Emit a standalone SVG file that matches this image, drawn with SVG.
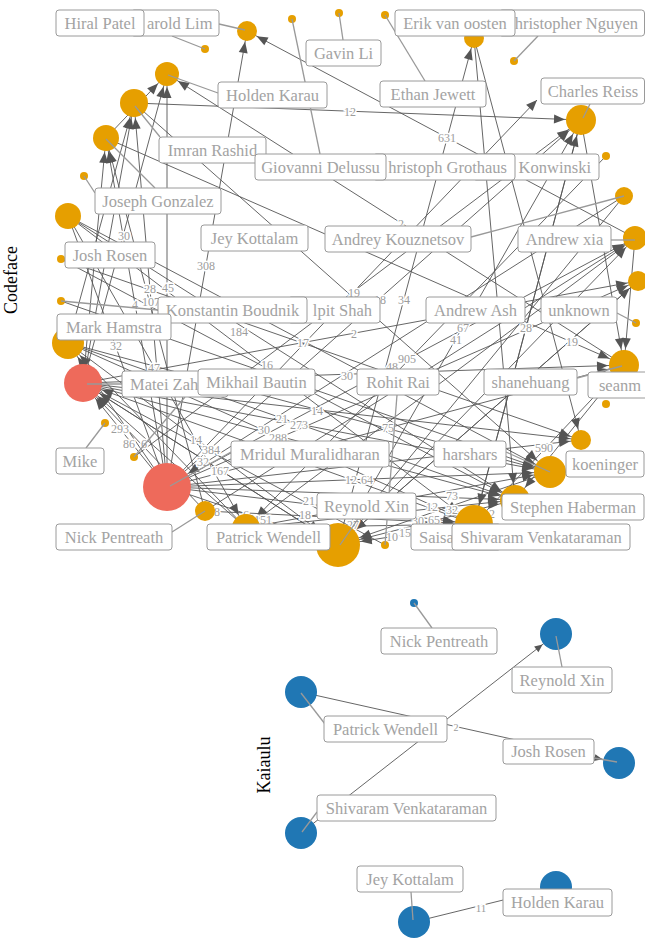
<svg xmlns="http://www.w3.org/2000/svg" width="645" height="939" viewBox="0 0 645 939">
<style>
.e{stroke:#555;stroke-width:.9;fill:none}
.ld{stroke:#999;stroke-width:1.3;fill:none}
.el{font-family:'Liberation Serif','DejaVu Serif',serif;font-size:12px;fill:#9c9c9c;stroke:#fff;stroke-width:3;paint-order:stroke;text-anchor:middle;dominant-baseline:central}
.lb rect{fill:#fff;stroke:#9a9a9a;stroke-width:1}
.lb text{font-family:'Liberation Serif','DejaVu Serif',serif;font-size:16.5px;fill:#a3a3a3;text-anchor:middle}
.lb text.s{text-anchor:start}.lb text.n{text-anchor:end}
.o{fill:#E69F00}.r{fill:#EE6A5B}.b{fill:#2077B4}
.ttl{font-family:'Liberation Serif','DejaVu Serif',serif;font-size:18px;fill:#000;text-anchor:middle}
</style>
<defs>
<marker id="a0" markerUnits="userSpaceOnUse" refX="0" refY="0" markerWidth="12" markerHeight="10" orient="auto" overflow="visible"><path d="M0,0L-11,-4.5L-11,4.5Z" fill="#555"/></marker>
<marker id="a10" markerUnits="userSpaceOnUse" refX="11" refY="0" markerWidth="12" markerHeight="10" orient="auto" overflow="visible"><path d="M0,0L-11,-4.5L-11,4.5Z" fill="#555"/></marker>
<marker id="a12" markerUnits="userSpaceOnUse" refX="13" refY="0" markerWidth="12" markerHeight="10" orient="auto" overflow="visible"><path d="M0,0L-11,-4.5L-11,4.5Z" fill="#555"/></marker>
<marker id="a13" markerUnits="userSpaceOnUse" refX="14" refY="0" markerWidth="12" markerHeight="10" orient="auto" overflow="visible"><path d="M0,0L-11,-4.5L-11,4.5Z" fill="#555"/></marker>
<marker id="a14" markerUnits="userSpaceOnUse" refX="15" refY="0" markerWidth="12" markerHeight="10" orient="auto" overflow="visible"><path d="M0,0L-11,-4.5L-11,4.5Z" fill="#555"/></marker>
<marker id="a15" markerUnits="userSpaceOnUse" refX="16" refY="0" markerWidth="12" markerHeight="10" orient="auto" overflow="visible"><path d="M0,0L-11,-4.5L-11,4.5Z" fill="#555"/></marker>
<marker id="a16" markerUnits="userSpaceOnUse" refX="17" refY="0" markerWidth="12" markerHeight="10" orient="auto" overflow="visible"><path d="M0,0L-11,-4.5L-11,4.5Z" fill="#555"/></marker>
<marker id="a19" markerUnits="userSpaceOnUse" refX="20" refY="0" markerWidth="12" markerHeight="10" orient="auto" overflow="visible"><path d="M0,0L-11,-4.5L-11,4.5Z" fill="#555"/></marker>
<marker id="a22" markerUnits="userSpaceOnUse" refX="23" refY="0" markerWidth="12" markerHeight="10" orient="auto" overflow="visible"><path d="M0,0L-11,-4.5L-11,4.5Z" fill="#555"/></marker>
<marker id="a24" markerUnits="userSpaceOnUse" refX="25" refY="0" markerWidth="12" markerHeight="10" orient="auto" overflow="visible"><path d="M0,0L-11,-4.5L-11,4.5Z" fill="#555"/></marker>
<marker id="k16" markerUnits="userSpaceOnUse" refX="17" refY="0" markerWidth="10" markerHeight="8" orient="auto" overflow="visible"><path d="M0,0L-8,-3.5L-8,3.5Z" fill="#555"/></marker>
</defs>
<rect width="645" height="939" fill="#fff"/>
<text class="ttl" transform="translate(17,280) rotate(-90)">Codeface</text>
<text class="ttl" transform="translate(270,765) rotate(-90)">Kaiaulu</text>

<g id="connectors">
<line class="e" x1="167" y1="487" x2="247" y2="31" marker-end="url(#a10)"/>
<line class="e" x1="635" y1="238" x2="247" y2="31" marker-end="url(#a10)"/>
<line class="e" x1="134" y1="103" x2="581" y2="120" marker-end="url(#a15)"/>
<line class="e" x1="581" y1="120" x2="624" y2="365" marker-end="url(#a15)"/>
<line class="e" x1="106" y1="138" x2="167" y2="74" marker-end="url(#a12)"/>
<line class="e" x1="624" y1="365" x2="167" y2="74" marker-end="url(#a12)"/>
<line class="e" x1="106" y1="138" x2="624" y2="365" marker-end="url(#a15)"/>
<line class="e" x1="338" y1="545" x2="581" y2="120" marker-end="url(#a15)"/>
<line class="e" x1="474" y1="524" x2="581" y2="120" marker-end="url(#a15)"/>
<line class="e" x1="167" y1="487" x2="581" y2="120" marker-end="url(#a15)"/>
<line class="e" x1="338" y1="545" x2="474" y2="38" marker-end="url(#a10)"/>
<line class="e" x1="167" y1="487" x2="167" y2="74" marker-end="url(#a12)"/>
<line class="e" x1="167" y1="487" x2="134" y2="103" marker-end="url(#a14)"/>
<line class="e" x1="83" y1="383" x2="167" y2="74" marker-end="url(#a12)"/>
<line class="e" x1="167" y1="487" x2="106" y2="138" marker-end="url(#a13)"/>
<line class="e" x1="205" y1="511" x2="106" y2="138" marker-end="url(#a13)"/>
<line class="e" x1="83" y1="383" x2="106" y2="138" marker-end="url(#a13)"/>
<line class="e" x1="68" y1="343" x2="134" y2="103" marker-end="url(#a14)"/>
<line class="e" x1="83" y1="383" x2="134" y2="103" marker-end="url(#a14)"/>
<line class="e" x1="134" y1="457" x2="581" y2="120" marker-end="url(#a15)"/>
<line class="e" x1="61" y1="259" x2="581" y2="440" marker-end="url(#a10)"/>
<line class="e" x1="83" y1="383" x2="638" y2="281" marker-end="url(#a10)"/>
<line class="e" x1="167" y1="487" x2="635" y2="238" marker-end="url(#a12)"/>
<line class="e" x1="83" y1="383" x2="624" y2="365" marker-end="url(#a15)"/>
<line class="e" x1="68" y1="216" x2="246" y2="528" marker-end="url(#a14)"/>
<line class="e" x1="68" y1="216" x2="474" y2="524" marker-end="url(#a19)"/>
<line class="e" x1="68" y1="216" x2="515" y2="500" marker-end="url(#a15)"/>
<line class="e" x1="167" y1="487" x2="83" y2="383" marker-end="url(#a19)"/>
<line class="e" x1="205" y1="511" x2="83" y2="383" marker-end="url(#a19)"/>
<line class="e" x1="68" y1="216" x2="167" y2="487"/>
<line class="e" x1="167" y1="487" x2="68" y2="343" marker-end="url(#a16)"/>
<line class="e" x1="246" y1="528" x2="68" y2="343" marker-end="url(#a16)"/>
<line class="e" x1="338" y1="545" x2="83" y2="383" marker-end="url(#a19)"/>
<line class="e" x1="474" y1="524" x2="83" y2="383" marker-end="url(#a19)"/>
<line class="e" x1="246" y1="528" x2="83" y2="383" marker-end="url(#a19)"/>
<line class="e" x1="68" y1="343" x2="550" y2="472" marker-end="url(#a16)"/>
<line class="e" x1="68" y1="343" x2="515" y2="500" marker-end="url(#a15)"/>
<line class="e" x1="83" y1="383" x2="550" y2="472" marker-end="url(#a16)"/>
<line class="e" x1="83" y1="383" x2="515" y2="500" marker-end="url(#a15)"/>
<line class="e" x1="68" y1="343" x2="474" y2="524" marker-end="url(#a19)"/>
<line class="e" x1="61" y1="259" x2="515" y2="500" marker-end="url(#a15)"/>
<line class="e" x1="68" y1="343" x2="338" y2="545" marker-end="url(#a22)"/>
<line class="e" x1="83" y1="383" x2="385" y2="545"/>
<line class="e" x1="83" y1="383" x2="338" y2="545" marker-end="url(#a22)"/>
<line class="e" x1="167" y1="487" x2="638" y2="281" marker-end="url(#a10)"/>
<line class="e" x1="167" y1="487" x2="550" y2="472" marker-end="url(#a16)"/>
<line class="e" x1="167" y1="487" x2="474" y2="524" marker-end="url(#a19)"/>
<line class="e" x1="205" y1="511" x2="474" y2="524" marker-end="url(#a19)"/>
<line class="e" x1="167" y1="487" x2="338" y2="545" marker-end="url(#a22)"/>
<line class="e" x1="167" y1="487" x2="515" y2="500" marker-end="url(#a15)"/>
<line class="e" x1="246" y1="528" x2="515" y2="500" marker-end="url(#a15)"/>
<line class="e" x1="246" y1="528" x2="474" y2="524" marker-end="url(#a19)"/>
<line class="e" x1="638" y1="281" x2="338" y2="545" marker-end="url(#a22)"/>
<line class="e" x1="515" y1="500" x2="338" y2="545" marker-end="url(#a22)"/>
<line class="e" x1="474" y1="524" x2="338" y2="545" marker-end="url(#a22)"/>
<line class="e" x1="550" y1="472" x2="338" y2="545" marker-end="url(#a22)"/>
<line class="e" x1="83" y1="383" x2="581" y2="440" marker-end="url(#a10)"/>
<line class="e" x1="474" y1="38" x2="581" y2="440" marker-end="url(#a10)"/>
<line class="e" x1="635" y1="238" x2="624" y2="365" marker-end="url(#a15)"/>
<line class="e" x1="624" y1="365" x2="515" y2="500" marker-end="url(#a15)"/>
<line class="e" x1="246" y1="528" x2="635" y2="238" marker-end="url(#a12)"/>
<line class="e" x1="338" y1="545" x2="635" y2="238" marker-end="url(#a12)"/>
<line class="e" x1="167" y1="487" x2="581" y2="440" marker-end="url(#a10)"/>
<line class="e" x1="68" y1="216" x2="550" y2="472" marker-end="url(#a16)"/>
<line class="e" x1="474" y1="38" x2="515" y2="500" marker-end="url(#a15)"/>
<line class="e" x1="581" y1="120" x2="474" y2="524" marker-end="url(#a19)"/>
<line class="e" x1="624" y1="196" x2="338" y2="545" marker-end="url(#a22)"/>
<line class="e" x1="624" y1="196" x2="167" y2="487" marker-end="url(#a24)"/>
<line class="e" x1="606" y1="156" x2="246" y2="528" marker-end="url(#a14)"/>
<line class="e" x1="624" y1="365" x2="474" y2="524" marker-end="url(#a19)"/>
<line class="e" x1="167" y1="487" x2="624" y2="365" marker-end="url(#a15)"/>
<line class="e" x1="246" y1="528" x2="550" y2="472" marker-end="url(#a16)"/>
<line class="e" x1="61" y1="301" x2="550" y2="472" marker-end="url(#a16)"/>
<line class="e" x1="205" y1="511" x2="635" y2="238" marker-end="url(#a12)"/>
<line class="e" x1="338" y1="545" x2="638" y2="281" marker-end="url(#a10)"/>
<line class="e" x1="134" y1="103" x2="550" y2="472" marker-end="url(#a16)"/>
<line class="e" x1="167" y1="487" x2="537" y2="100" marker-end="url(#a0)"/>
<line class="e" x1="301" y1="692" x2="619" y2="763" marker-end="url(#k16)"/>
<line class="e" x1="301" y1="833" x2="556" y2="634" marker-end="url(#k16)"/>
<line class="e" x1="414" y1="922" x2="556" y2="887" marker-end="url(#k16)"/>
</g>

<g id="edge-labels">
<text class="el" x="350" y="112">12</text>
<text class="el" x="447" y="138">631</text>
<text class="el" x="401" y="224">2</text>
<text class="el" x="124" y="236">30</text>
<text class="el" x="206" y="266">308</text>
<text class="el" x="150" y="289">28</text>
<text class="el" x="168" y="288">45</text>
<text class="el" x="135" y="305">4</text>
<text class="el" x="151" y="302">107</text>
<text class="el" x="354" y="293">19</text>
<text class="el" x="380" y="300">18</text>
<text class="el" x="404" y="300">34</text>
<text class="el" x="239" y="332">184</text>
<text class="el" x="303" y="343">17</text>
<text class="el" x="354" y="334">2</text>
<text class="el" x="463" y="328">67</text>
<text class="el" x="526" y="328">28</text>
<text class="el" x="456" y="340">41</text>
<text class="el" x="572" y="342">19</text>
<text class="el" x="407" y="359">905</text>
<text class="el" x="392" y="367">48</text>
<text class="el" x="116" y="346">32</text>
<text class="el" x="154" y="368">47</text>
<text class="el" x="267" y="365">16</text>
<text class="el" x="347" y="376">30</text>
<text class="el" x="120" y="429">293</text>
<text class="el" x="129" y="444">86</text>
<text class="el" x="144" y="444">6</text>
<text class="el" x="317" y="411">14</text>
<text class="el" x="282" y="419">21</text>
<text class="el" x="264" y="430">30</text>
<text class="el" x="299" y="425">273</text>
<text class="el" x="278" y="438">288</text>
<text class="el" x="388" y="428">75</text>
<text class="el" x="196" y="440">14</text>
<text class="el" x="211" y="450">384</text>
<text class="el" x="203" y="462">32</text>
<text class="el" x="220" y="471">167</text>
<text class="el" x="351" y="480">12</text>
<text class="el" x="367" y="480">64</text>
<text class="el" x="309" y="501">21</text>
<text class="el" x="305" y="515">18</text>
<text class="el" x="217" y="512">8</text>
<text class="el" x="246" y="515">6</text>
<text class="el" x="263" y="520">151</text>
<text class="el" x="452" y="496">73</text>
<text class="el" x="432" y="507">12</text>
<text class="el" x="452" y="510">32</text>
<text class="el" x="434" y="520">65</text>
<text class="el" x="353" y="525">27</text>
<text class="el" x="418" y="521">30</text>
<text class="el" x="405" y="533">15</text>
<text class="el" x="392" y="537">10</text>
<text class="el" x="492" y="514">2</text>
<text class="el" x="544" y="448">590</text>
<text class="el" x="456" y="727" style="font-size:10px">2</text>
<text class="el" x="481" y="908" style="font-size:11px">11</text>
</g>

<g id="nodes">
<g id="cf-harold-lim"><circle class="o" cx="247" cy="31" r="10"/></g>
<g id="cf-hiral-patel"><circle class="o" cx="205" cy="49" r="4"/></g>
<g id="cf-giovanni-delussu"><circle class="o" cx="292" cy="19" r="4"/></g>
<g id="cf-holden-karau"><circle class="o" cx="167" cy="74" r="12"/></g>
<g id="cf-imran-rashid"><circle class="o" cx="134" cy="103" r="14"/></g>
<g id="cf-node-06"><circle class="o" cx="106" cy="138" r="13"/></g>
<g id="cf-joseph-gonzalez"><circle class="o" cx="84" cy="176" r="4"/></g>
<g id="cf-gavin-li"><circle class="o" cx="339" cy="13" r="4"/></g>
<g id="cf-ethan-jewett"><circle class="o" cx="385" cy="15" r="4"/></g>
<g id="cf-erik-van-oosten"><circle class="o" cx="474" cy="38" r="10"/></g>
<g id="cf-christopher-nguyen"><circle class="o" cx="514" cy="61" r="4"/></g>
<g id="cf-charles-reiss"><circle class="o" cx="581" cy="120" r="15"/></g>
<g id="cf-andy-konwinski"><circle class="o" cx="606" cy="156" r="4"/></g>
<g id="cf-andrey-kouznetsov"><circle class="o" cx="624" cy="196" r="9"/></g>
<g id="cf-node-15"><circle class="o" cx="68" cy="216" r="13"/></g>
<g id="cf-josh-rosen"><circle class="o" cx="61" cy="259" r="4"/></g>
<g id="cf-konstantin-boudnik"><circle class="o" cx="61" cy="301" r="4"/></g>
<g id="cf-mark-hamstra"><circle class="o" cx="68" cy="343" r="16"/></g>
<g id="cf-matei-zaharia"><circle class="r" cx="83" cy="383" r="19"/></g>
<g id="cf-andrew-xia"><circle class="o" cx="635" cy="238" r="12"/></g>
<g id="cf-andrew-ash"><circle class="o" cx="638" cy="281" r="10"/></g>
<g id="cf-unknown"><circle class="o" cx="636" cy="323" r="4"/></g>
<g id="cf-shanehuang"><circle class="o" cx="624" cy="365" r="15"/></g>
<g id="cf-seanm"><circle class="o" cx="606" cy="404" r="4"/></g>
<g id="cf-mike"><circle class="o" cx="105" cy="423" r="4"/></g>
<g id="cf-mikhail-bautin"><circle class="o" cx="134" cy="457" r="4"/></g>
<g id="cf-mridul-muralidharan"><circle class="r" cx="167" cy="487" r="24"/></g>
<g id="cf-nick-pentreath"><circle class="o" cx="205" cy="511" r="10"/></g>
<g id="cf-patrick-wendell"><circle class="o" cx="246" cy="528" r="14"/></g>
<g id="cf-reynold-xin"><circle class="o" cx="338" cy="545" r="22"/></g>
<g id="cf-rohit-rai"><circle class="o" cx="385" cy="545" r="4"/></g>
<g id="cf-shivaram-venkataraman"><circle class="o" cx="474" cy="524" r="19"/></g>
<g id="cf-stephen-haberman"><circle class="o" cx="515" cy="500" r="15"/></g>
<g id="cf-harshars"><circle class="o" cx="550" cy="472" r="16"/></g>
<g id="cf-koeninger"><circle class="o" cx="581" cy="440" r="10"/></g>
<g id="k-nick-pentreath"><circle class="b" cx="414" cy="603" r="4"/></g>
<g id="k-reynold-xin"><circle class="b" cx="556" cy="634" r="16"/></g>
<g id="k-patrick-wendell"><circle class="b" cx="301" cy="692" r="16"/></g>
<g id="k-josh-rosen"><circle class="b" cx="619" cy="763" r="16"/></g>
<g id="k-shivaram-venkataraman"><circle class="b" cx="301" cy="833" r="16"/></g>
<g id="k-jey-kottalam"><circle class="b" cx="414" cy="922" r="16"/></g>
<g id="k-holden-karau"><circle class="b" cx="556" cy="887" r="16"/></g>
</g>

<g id="leaders">
<line class="ld" x1="219" y1="24" x2="245" y2="30"/>
<line class="ld" x1="172" y1="36" x2="205" y2="49"/>
<line class="ld" x1="320" y1="154" x2="292" y2="19"/>
<line class="ld" x1="343" y1="40" x2="339" y2="13"/>
<line class="ld" x1="425" y1="81" x2="385" y2="15"/>
<line class="ld" x1="538" y1="36" x2="514" y2="61"/>
<line class="ld" x1="590" y1="104" x2="583" y2="118"/>
<line class="ld" x1="218" y1="93" x2="168" y2="75"/>
<line class="ld" x1="160" y1="137" x2="135" y2="106"/>
<line class="ld" x1="106" y1="139" x2="155" y2="188"/>
<line class="ld" x1="95" y1="193" x2="84" y2="176"/>
<line class="ld" x1="471" y1="237" x2="624" y2="196"/>
<line class="ld" x1="611" y1="240" x2="635" y2="240"/>
<line class="ld" x1="158" y1="310" x2="61" y2="301"/>
<line class="ld" x1="617" y1="313" x2="636" y2="323"/>
<line class="ld" x1="577" y1="378" x2="622" y2="366"/>
<line class="ld" x1="506" y1="452" x2="550" y2="472"/>
<line class="ld" x1="86" y1="448" x2="105" y2="423"/>
<line class="ld" x1="122" y1="384" x2="87" y2="384"/>
<line class="ld" x1="185" y1="397" x2="134" y2="457"/>
<line class="ld" x1="231" y1="452" x2="170" y2="486"/>
<line class="ld" x1="172" y1="532" x2="205" y2="511"/>
<line class="ld" x1="397" y1="395" x2="385" y2="545"/>
<line class="ld" x1="358" y1="519" x2="340" y2="545"/>
<line class="ld" x1="432" y1="628" x2="414" y2="603"/>
<line class="ld" x1="562" y1="667" x2="556" y2="636"/>
<line class="ld" x1="325" y1="724" x2="301" y2="693"/>
<line class="ld" x1="594" y1="758" x2="617" y2="762"/>
<line class="ld" x1="317" y1="812" x2="302" y2="832"/>
<line class="ld" x1="411" y1="892" x2="413" y2="920"/>
</g>

<g id="labels">
<g class="lb" id="lbl-harold-lim"><rect x="131" y="10" width="88" height="26" rx="3"/><text class="n" x="212.5" y="28.5">arold Lim</text></g>
<g class="lb" id="lbl-hiral-patel"><rect x="56" y="10" width="88" height="26" rx="3"/><text x="100" y="28.5">Hiral Patel</text></g>
<g class="lb" id="lbl-gavin-li"><rect x="306" y="40" width="75" height="26" rx="3"/><text x="343.5" y="58.5">Gavin Li</text></g>
<g class="lb" id="lbl-christopher-nguyen"><rect x="499" y="10" width="145.5" height="26" rx="3"/><text class="n" x="638" y="28.5">hristopher Nguyen</text></g>
<g class="lb" id="lbl-erik-van-oosten"><rect x="395" y="10" width="120" height="26" rx="3"/><text x="455" y="28.5">Erik van oosten</text></g>
<g class="lb" id="lbl-holden-karau"><rect x="218" y="82" width="109" height="26" rx="3"/><text x="272.5" y="100.5">Holden Karau</text></g>
<g class="lb" id="lbl-ethan-jewett"><rect x="380" y="81" width="106" height="26" rx="3"/><text x="433" y="99.5">Ethan Jewett</text></g>
<g class="lb" id="lbl-charles-reiss"><rect x="541" y="78" width="103.5" height="26" rx="3"/><text x="593" y="96.5">Charles Reiss</text></g>
<g class="lb" id="lbl-imran-rashid"><rect x="159" y="137" width="107" height="26" rx="3"/><text x="212.5" y="155.5">Imran Rashid</text></g>
<g class="lb" id="lbl-andy-konwinski"><rect x="473" y="154" width="126" height="26" rx="3"/><text class="n" x="591" y="172.5">Konwinski</text></g>
<g class="lb" id="lbl-christoph-grothaus"><rect x="373" y="154" width="142" height="26" rx="3"/><text class="n" x="507" y="172.5">hristoph Grothaus</text></g>
<g class="lb" id="lbl-giovanni-delussu"><rect x="255" y="154" width="131" height="26" rx="3"/><text x="320.5" y="172.5">Giovanni Delussu</text></g>
<g class="lb" id="lbl-joseph-gonzalez"><rect x="95" y="188" width="126" height="26" rx="3"/><text x="158" y="206.5">Joseph Gonzalez</text></g>
<g class="lb" id="lbl-jey-kottalam"><rect x="201" y="225" width="107" height="26" rx="3"/><text x="254.5" y="243.5">Jey Kottalam</text></g>
<g class="lb" id="lbl-andrey-kouznetsov"><rect x="325" y="226" width="146" height="26" rx="3"/><text x="398" y="244.5">Andrey Kouznetsov</text></g>
<g class="lb" id="lbl-andrew-xia"><rect x="518" y="226" width="93" height="26" rx="3"/><text x="564.5" y="244.5">Andrew xia</text></g>
<g class="lb" id="lbl-josh-rosen"><rect x="65" y="242" width="90" height="26" rx="3"/><text x="110" y="260.5">Josh Rosen</text></g>
<g class="lb" id="lbl-kalpit-shah"><rect x="288" y="297" width="92" height="26" rx="3"/><text class="n" x="372" y="315.5">lpit Shah</text></g>
<g class="lb" id="lbl-konstantin-boudnik"><rect x="158" y="297" width="149" height="26" rx="3"/><text x="232.5" y="315.5">Konstantin Boudnik</text></g>
<g class="lb" id="lbl-andrew-ash"><rect x="426" y="297" width="99" height="26" rx="3"/><text x="475.5" y="315.5">Andrew Ash</text></g>
<g class="lb" id="lbl-unknown"><rect x="541" y="297" width="76" height="26" rx="3"/><text x="579" y="315.5">unknown</text></g>
<g class="lb" id="lbl-mark-hamstra"><rect x="57" y="314" width="114" height="26" rx="3"/><text x="114" y="332.5">Mark Hamstra</text></g>
<g class="lb" id="lbl-matei-zaharia"><rect x="122" y="371" width="106" height="26" rx="3"/><text class="s" x="130" y="389.5">Matei Zah</text></g>
<g class="lb" id="lbl-mikhail-bautin"><rect x="198" y="369" width="117" height="26" rx="3"/><text x="256.5" y="387.5">Mikhail Bautin</text></g>
<g class="lb" id="lbl-rohit-rai"><rect x="357" y="369" width="82" height="26" rx="3"/><text x="398" y="387.5">Rohit Rai</text></g>
<g class="lb" id="lbl-shanehuang"><rect x="484" y="369" width="93" height="26" rx="3"/><text x="530.5" y="387.5">shanehuang</text></g>
<g class="lb" id="lbl-seanm"><rect x="588" y="372" width="64" height="26" rx="3"/><text x="620" y="390.5">seanm</text></g>
<g class="lb" id="lbl-mike"><rect x="56" y="448" width="48" height="26" rx="3"/><text x="80" y="466.5">Mike</text></g>
<g class="lb" id="lbl-mridul-muralidharan"><rect x="231" y="441" width="158" height="26" rx="3"/><text x="310" y="459.5">Mridul Muralidharan</text></g>
<g class="lb" id="lbl-harshars"><rect x="434" y="441" width="72" height="26" rx="3"/><text x="470" y="459.5">harshars</text></g>
<g class="lb" id="lbl-koeninger"><rect x="566" y="451" width="78" height="26" rx="3"/><text x="605" y="469.5">koeninger</text></g>
<g class="lb" id="lbl-reynold-xin"><rect x="317" y="493" width="99" height="26" rx="3"/><text x="366.5" y="511.5">Reynold Xin</text></g>
<g class="lb" id="lbl-stephen-haberman"><rect x="502" y="494" width="142" height="26" rx="3"/><text x="573" y="512.5">Stephen Haberman</text></g>
<g class="lb" id="lbl-nick-pentreath"><rect x="56" y="524" width="116" height="26" rx="3"/><text x="114" y="542.5">Nick Pentreath</text></g>
<g class="lb" id="lbl-patrick-wendell"><rect x="207" y="524" width="123" height="26" rx="3"/><text x="268.5" y="542.5">Patrick Wendell</text></g>
<g class="lb" id="lbl-saisai-shao"><rect x="411" y="524" width="90" height="26" rx="3"/><text class="s" x="419" y="542.5">Saisa</text></g>
<g class="lb" id="lbl-shivaram-venkataraman"><rect x="452" y="524" width="178" height="26" rx="3"/><text x="541" y="542.5">Shivaram Venkataraman</text></g>
<g class="lb" id="klbl-nick-pentreath"><rect x="381" y="628" width="116" height="26" rx="3"/><text x="439" y="646.5">Nick Pentreath</text></g>
<g class="lb" id="klbl-reynold-xin"><rect x="512" y="667" width="100" height="26" rx="3"/><text x="562" y="685.5">Reynold Xin</text></g>
<g class="lb" id="klbl-patrick-wendell"><rect x="324" y="716" width="123" height="26" rx="3"/><text x="385.5" y="734.5">Patrick Wendell</text></g>
<g class="lb" id="klbl-josh-rosen"><rect x="503" y="739" width="91" height="25" rx="3"/><text x="548.5" y="757">Josh Rosen</text></g>
<g class="lb" id="klbl-shivaram-venkataraman"><rect x="317" y="795" width="179" height="26" rx="3"/><text x="406.5" y="813.5">Shivaram Venkataraman</text></g>
<g class="lb" id="klbl-jey-kottalam"><rect x="357" y="866" width="106" height="26" rx="3"/><text x="410" y="884.5">Jey Kottalam</text></g>
<g class="lb" id="klbl-holden-karau"><rect x="503" y="889" width="109" height="27" rx="3"/><text x="557.5" y="908">Holden Karau</text></g>
</g>
</svg>
